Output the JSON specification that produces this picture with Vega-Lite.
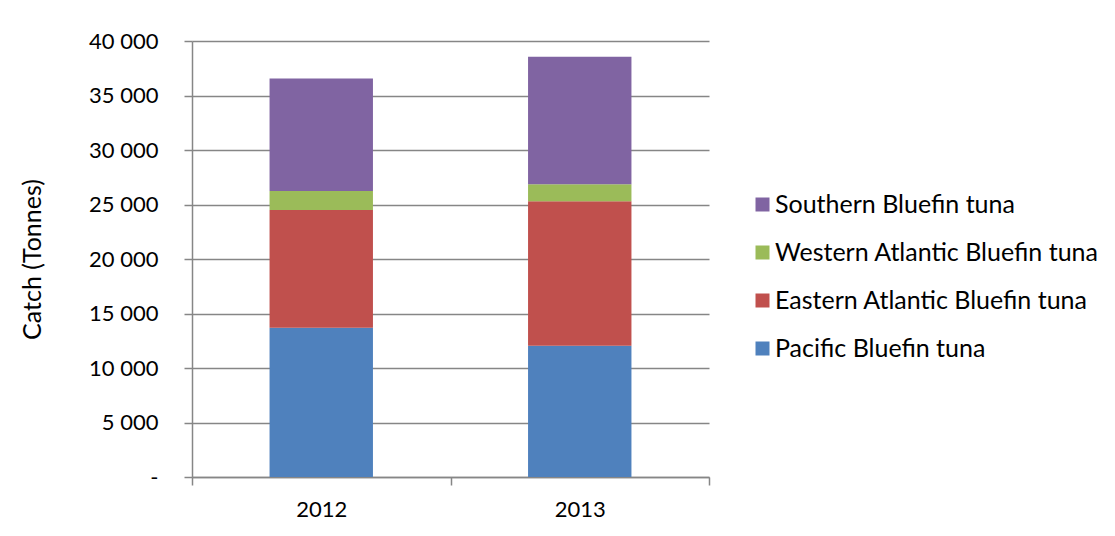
{
  "$schema": "https://vega.github.io/schema/vega-lite/v6.json",
  "autosize": {"type": "none"},
  "padding": {"left": 192, "top": 41, "right": 406, "bottom": 59},
  "width": 517,
  "height": 436,
  "background": "white",
  "config": {
    "view": {"stroke": null},
    "font": "Lato"
  },
  "data": {
    "values": [
      {"year": "2012", "species": "Pacific Bluefin tuna", "catch": 13700},
      {"year": "2012", "species": "Eastern Atlantic Bluefin tuna", "catch": 10800},
      {"year": "2012", "species": "Western Atlantic Bluefin tuna", "catch": 1750},
      {"year": "2012", "species": "Southern Bluefin tuna", "catch": 10300},
      {"year": "2013", "species": "Pacific Bluefin tuna", "catch": 12050},
      {"year": "2013", "species": "Eastern Atlantic Bluefin tuna", "catch": 13250},
      {"year": "2013", "species": "Western Atlantic Bluefin tuna", "catch": 1550},
      {"year": "2013", "species": "Southern Bluefin tuna", "catch": 11700}
    ]
  },
  "transform": [
    {"calculate": "indexof(['Pacific Bluefin tuna','Eastern Atlantic Bluefin tuna','Western Atlantic Bluefin tuna','Southern Bluefin tuna'], datum.species)", "as": "stackOrder"}
  ],
  "mark": {"type": "bar", "width": {"band": 0.4}},
  "encoding": {
    "x": {
      "field": "year",
      "type": "nominal",
      "scale": {"paddingInner": 0, "paddingOuter": 0},
      "axis": {
        "title": null,
        "labelAngle": 0,
        "labelFont": "Lato",
        "labelFontSize": 22,
        "labelColor": "#000000",
        "labelPadding": 14,
        "tickBand": "extent",
        "tickSize": 8,
        "tickColor": "#868686",
        "tickWidth": 1.5,
        "domainColor": "#868686",
        "domainWidth": 1.5,
        "grid": false
      }
    },
    "y": {
      "field": "catch",
      "type": "quantitative",
      "aggregate": "sum",
      "stack": "zero",
      "scale": {"domain": [0, 40000], "nice": false},
      "axis": {
        "title": "Catch (Tonnes)",
        "titleFont": "Lato",
        "titleFontSize": 25,
        "titleFontWeight": "normal",
        "titleColor": "#000000",
        "titleX": -160,
        "titleY": 218,
        "titleAngle": -90,
        "titleAlign": "center",
        "titleBaseline": "middle",
        "values": [0, 5000, 10000, 15000, 20000, 25000, 30000, 35000, 40000],
        "labelExpr": "datum.value == 0 ? '-' : replace(format(datum.value, ','), ',', ' ')",
        "labelFont": "Lato",
        "labelFontSize": 22,
        "labelColor": "#000000",
        "labelPadding": 26,
        "tickSize": 8,
        "tickColor": "#868686",
        "tickWidth": 1.5,
        "domainColor": "#868686",
        "domainWidth": 1.5,
        "grid": true,
        "gridColor": "#868686",
        "gridWidth": 1.5
      }
    },
    "color": {
      "field": "species",
      "type": "nominal",
      "scale": {
        "domain": ["Southern Bluefin tuna", "Western Atlantic Bluefin tuna", "Eastern Atlantic Bluefin tuna", "Pacific Bluefin tuna"],
        "range": ["#8064A2", "#9BBB59", "#C0504D", "#4F81BD"]
      },
      "legend": {
        "title": null,
        "orient": "none",
        "legendX": 558,
        "legendY": 151,
        "symbolType": "square",
        "symbolSize": 196,
        "symbolStrokeWidth": 0,
        "labelFont": "Lato",
        "labelFontSize": 25,
        "labelLimit": 0,
        "labelColor": "#000000",
        "labelOffset": 0,
        "rowPadding": 22
      }
    },
    "order": {"field": "stackOrder", "type": "quantitative", "sort": "ascending"}
  }
}
